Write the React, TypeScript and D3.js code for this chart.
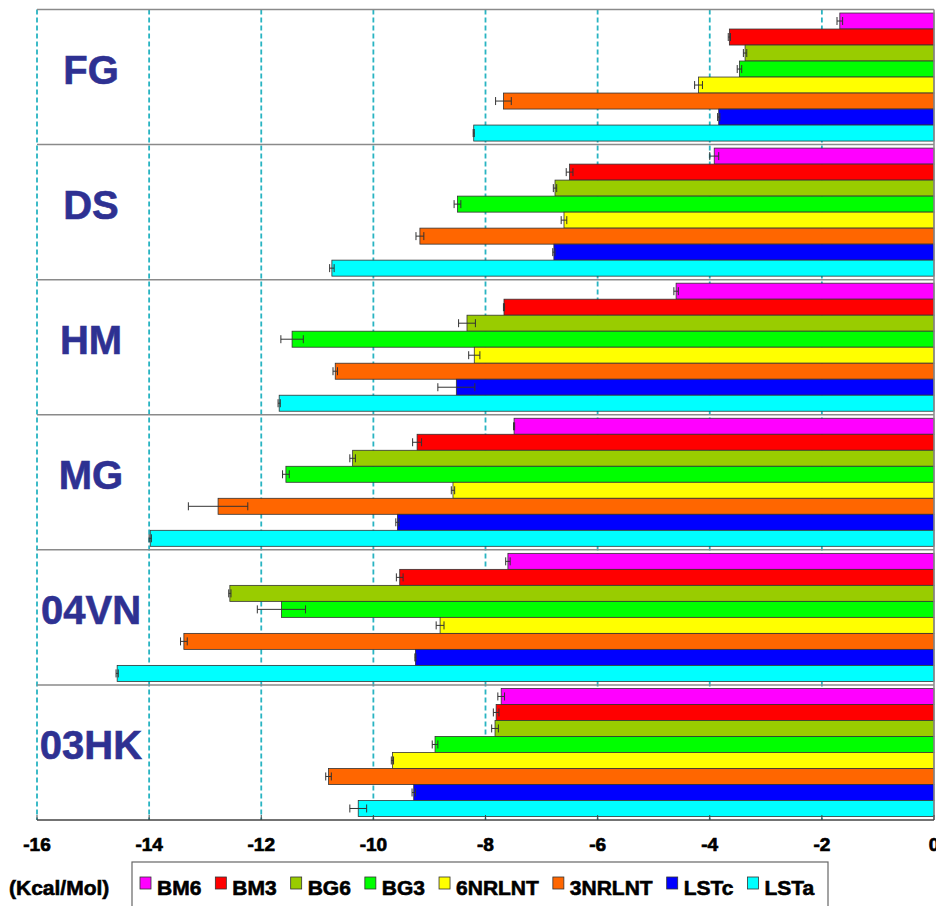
import React from 'react';
import * as d3 from 'd3';

const width = 936;
const height = 906;

const groups = ['FG', 'DS', 'HM', 'MG', '04VN', '03HK'];
const series = ['BM6', 'BM3', 'BG6', 'BG3', '6NRLNT', '3NRLNT', 'LSTc', 'LSTa'];
const colors = ['#ff00ff', '#ff0000', '#99cc00', '#00ff00', '#ffff00', '#ff6600', '#0000ff', '#00ffff'];
const ticks = [-16, -14, -12, -10, -8, -6, -4, -2, 0];

// binding energies, one array per receptor, in series order
const fgValues = [-1.68, -3.65, -3.37, -3.47, -4.2, -7.68, -3.84, -8.21];
const dsValues = [-3.92, -6.5, -6.76, -8.5, -6.6, -9.17, -6.78, -10.74];
const hmValues = [-4.6, -7.67, -8.33, -11.45, -8.2, -10.68, -8.52, -11.68];
const mgValues = [-7.49, -9.22, -10.37, -11.56, -8.58, -12.77, -9.57, -13.98];
const vn04Values = [-7.6, -9.53, -12.56, -11.64, -8.81, -13.38, -9.25, -14.57];
const hk03Values = [-7.72, -7.81, -7.83, -8.9, -9.66, -10.8, -9.28, -10.27];

const fgErrors = [0.05, 0.02, 0.03, 0.04, 0.07, 0.14, 0.02, 0.01];
const dsErrors = [0.08, 0.06, 0.03, 0.06, 0.05, 0.07, 0.02, 0.04];
const hmErrors = [0.04, 0.01, 0.15, 0.2, 0.1, 0.04, 0.33, 0.02];
const mgErrors = [0.01, 0.08, 0.05, 0.06, 0.03, 0.53, 0.03, 0.02];
const vn04Errors = [0.04, 0.06, 0.02, 0.43, 0.07, 0.06, 0.01, 0.02];
const hk03Errors = [0.06, 0.05, 0.06, 0.05, 0.02, 0.05, 0.03, 0.15];

const values = [fgValues, dsValues, hmValues, mgValues, vn04Values, hk03Values];
const errors = [fgErrors, dsErrors, hmErrors, mgErrors, vn04Errors, hk03Errors];

const font = "'Liberation Sans', Arial, sans-serif";

const plot = { left: 37, right: 934, top: 9.5, bottom: 820 };

const measure = (() => {
  const ctx = document.createElement('canvas').getContext('2d');
  return (text: string, f: string) => {
    if (!ctx) return text.length * 11;
    ctx.font = f;
    return ctx.measureText(text).width;
  };
})();

const App = () => {
  const x = d3.scaleLinear().domain([-16, 0]).range([plot.left, plot.right]);
  const yGroup = d3.scaleBand().domain(groups).range([plot.top, plot.bottom]);
  const yBar = d3.scaleBand().domain(series).range([0, yGroup.bandwidth()]).paddingInner(0).paddingOuter(0.22);

  // legend layout
  const legendFont = `bold 21px ${font}`;
  let cursor = 140;
  const legendItems = series.map((s, i) => {
    const item = { s, color: colors[i], x: cursor };
    cursor += 12 + 5 + measure(s, legendFont) + 14;
    return item;
  });

  return (
    <svg width={width} height={height} style={{ position: 'absolute', left: 0, top: 0, background: '#fff' }}>
      {/* grid */}
      {ticks.slice(0, -1).map(t => (
        <line key={t} x1={x(t)} x2={x(t)} y1={plot.top} y2={plot.bottom}
          stroke="#29b4c2" strokeWidth={1.8} strokeDasharray="5,3" />
      ))}

      {/* bars */}
      {groups.map((g, gi) => (
        <g key={g} transform={`translate(0, ${yGroup(g)})`}>
          {series.map((s, si) => {
            const v = values[gi][si];
            const e = errors[gi][si];
            const y0 = yBar(s)!;
            const cy = y0 + yBar.bandwidth() / 2;
            return (
              <g key={s}>
                <rect x={x(v)} y={y0} width={x(0) - x(v)} height={yBar.bandwidth()}
                  fill={colors[si]} stroke="#333" strokeWidth={0.8} />
                <line x1={x(v - e)} x2={x(v + e)} y1={cy} y2={cy} stroke="#333" strokeWidth={1} />
                <line x1={x(v - e)} x2={x(v - e)} y1={cy - 4} y2={cy + 4} stroke="#333" strokeWidth={1} />
                <line x1={x(v + e)} x2={x(v + e)} y1={cy - 4} y2={cy + 4} stroke="#333" strokeWidth={1} />
              </g>
            );
          })}
          <text x={91} y={74} textAnchor="middle" fontFamily={font} fontWeight="bold" fontSize={40}
            fill="#2e3192" stroke="#2e3192" strokeWidth={0.6}>
            {g}
          </text>
        </g>
      ))}

      {/* group separators */}
      {groups.map(g => (
        <line key={g} x1={plot.left} x2={plot.right} y1={yGroup(g)} y2={yGroup(g)} stroke="#8a8a8a" strokeWidth={1.5} />
      ))}
      <line x1={plot.right} x2={plot.right} y1={plot.top} y2={plot.bottom} stroke="#8a8a8a" strokeWidth={1.5} />

      {/* x axis */}
      <line x1={plot.left} x2={plot.right} y1={plot.bottom} y2={plot.bottom} stroke="#444" strokeWidth={1.5} />
      {ticks.map(t => (
        <g key={t}>
          <line x1={x(t)} x2={x(t)} y1={plot.bottom} y2={plot.bottom - 5} stroke="#444" strokeWidth={1} />
          <text x={x(t)} y={851} textAnchor="middle" fontFamily={font} fontWeight="bold" fontSize={19}
            fill="#000" stroke="#000" strokeWidth={0.7}>
            {t}
          </text>
        </g>
      ))}

      {/* legend */}
      <text x={9} y={895} fontFamily={font} fontWeight="bold" fontSize={21} fill="#000" stroke="#000" strokeWidth={0.6}>
        (Kcal/Mol)
      </text>
      <rect x={132} y={862} width={696} height={60} fill="#fff" stroke="#666" strokeWidth={1.2} />
      {legendItems.map(d => (
        <g key={d.s}>
          <rect x={d.x} y={877} width={11} height={12} fill={d.color} stroke="#333" strokeWidth={0.8} />
          <text x={d.x + 17} y={895} fontFamily={font} fontWeight="bold" fontSize={21}
            fill="#000" stroke="#000" strokeWidth={0.6}>
            {d.s}
          </text>
        </g>
      ))}
    </svg>
  );
};

export default App;
